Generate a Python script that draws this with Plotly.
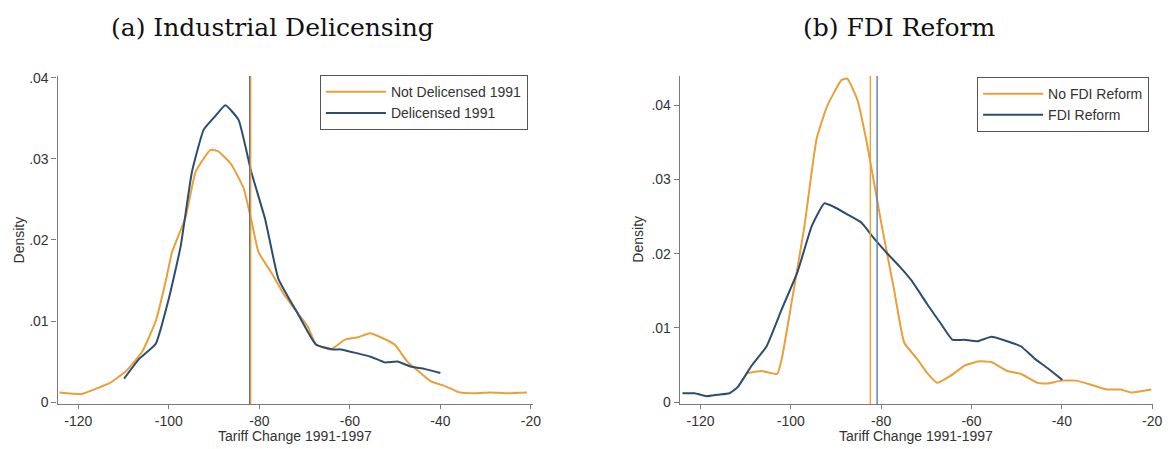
import plotly.graph_objects as go

# ---------------- data ----------------
# Panel (a): Industrial Delicensing
a_not_x = [-124.2, -119.3, -115.4, -113.2, -109.5, -105.9, -102.9, -100.7, -99.3, -96.3, -94.1, -90.8, -89.0,
           -86.2, -83.5, -81.8, -80.2, -77.4, -74.7, -72.1, -69.2, -67.5, -64.2, -61.1, -58.2, -55.6, -53.2,
           -50.1, -47.3, -44.4, -42.2, -39.1, -35.8, -31.9, -29.0, -25.3, -20.9]
a_not_y = [0.0012, 0.0010, 0.0018, 0.0023, 0.0038, 0.0062, 0.0100, 0.0149, 0.0185, 0.0228, 0.0284, 0.0311, 0.0309,
           0.0293, 0.0264, 0.0225, 0.0185, 0.0160, 0.0134, 0.0114, 0.0092, 0.0071, 0.0065, 0.0077, 0.0080, 0.0085, 0.0080,
           0.0071, 0.0050, 0.0036, 0.0026, 0.0020, 0.0012, 0.0011, 0.0012, 0.0011, 0.0012]
a_del_x = [-109.9, -106.6, -102.9, -100.0, -97.4, -94.9, -92.3, -89.7, -87.5, -84.6, -81.8, -78.7, -75.8,
           -71.4, -67.5, -63.7, -62.0, -58.2, -55.4, -52.3, -49.5, -46.6, -43.5, -40.0]
a_del_y = [0.0029, 0.0053, 0.0072, 0.0128, 0.0192, 0.0284, 0.0336, 0.0353, 0.0366, 0.0348, 0.0284, 0.0225, 0.0152,
           0.0108, 0.0071, 0.0065, 0.0065, 0.0060, 0.0056, 0.0049, 0.0050, 0.0044, 0.0041, 0.0036]
a_vlines = [-82.1, -81.9]  # Delicensed mean, Not Delicensed mean

# Panel (b): FDI Reform
b_no_x = [-109.8, -106.5, -103.0, -101.9, -99.9, -97.0, -94.3, -91.9, -88.8, -87.5, -85.3, -83.1, -80.0, -77.1,
          -74.9, -72.0, -69.8, -67.6, -64.5, -61.6, -58.3, -55.6, -52.1, -49.0, -45.4, -43.2, -40.1, -36.8,
          -32.8, -30.0, -26.9, -24.6, -20.2]
b_no_y = [0.0039, 0.0042, 0.0038, 0.0062, 0.0132, 0.0237, 0.0355, 0.0400, 0.0434, 0.0436, 0.0408, 0.0347, 0.0242, 0.0150,
          0.0080, 0.0058, 0.0039, 0.0026, 0.0036, 0.0049, 0.0055, 0.0054, 0.0042, 0.0038, 0.0026, 0.0025, 0.0029, 0.0029,
          0.0022, 0.0017, 0.0017, 0.0013, 0.0017]
b_fdi_x = [-124.0, -121.3, -118.7, -116.2, -113.6, -111.8, -108.7, -105.4, -102.1, -98.5, -95.4, -92.6, -90.4,
           -87.5, -84.4, -81.5, -78.6, -75.5, -73.3, -69.8, -66.7, -64.2, -61.6, -58.7, -55.6, -52.1, -49.0,
           -46.1, -43.2, -39.9]
b_fdi_y = [0.0012, 0.0012, 0.0008, 0.0010, 0.0012, 0.0020, 0.0049, 0.0075, 0.0124, 0.0176, 0.0237, 0.0268, 0.0263,
           0.0253, 0.0242, 0.0220, 0.0200, 0.0180, 0.0164, 0.0132, 0.0105, 0.0084, 0.0084, 0.0082, 0.0088, 0.0082, 0.0075,
           0.0059, 0.0046, 0.0030]
b_vlines = [-82.4, -80.9]  # No FDI Reform mean, FDI Reform mean

x_ticks = [-120, -100, -80, -60, -40, -20]
x_ticktext = ["-120", "-100", "-80", "-60", "-40", "-20"]
a_yticks = [0, 0.01, 0.02, 0.03, 0.04]
b_yticks = [0, 0.01, 0.02, 0.03, 0.04]
y_ticktext = ["0", ".01", ".02", ".03", ".04"]

ORANGE = "#E9A038"
BLUE = "#2D4D70"
AXIS = "#7a7a7a"
TEXT = "#333333"
W, H = 1174, 449
SANS = "Liberation Sans, Arial"

fig = go.Figure()
line_kw = dict(width=2, shape="spline", smoothing=0.4)
fig.add_trace(go.Scatter(x=a_not_x, y=a_not_y, mode="lines", name="Not Delicensed 1991",
                         line=dict(color=ORANGE, **line_kw), xaxis="x", yaxis="y", legend="legend"))
fig.add_trace(go.Scatter(x=a_del_x, y=a_del_y, mode="lines", name="Delicensed 1991",
                         line=dict(color=BLUE, **line_kw), xaxis="x", yaxis="y", legend="legend"))
fig.add_trace(go.Scatter(x=b_no_x, y=b_no_y, mode="lines", name="No FDI Reform",
                         line=dict(color=ORANGE, **line_kw), xaxis="x2", yaxis="y2", legend="legend2"))
fig.add_trace(go.Scatter(x=b_fdi_x, y=b_fdi_y, mode="lines", name="FDI Reform",
                         line=dict(color=BLUE, **line_kw), xaxis="x2", yaxis="y2", legend="legend2"))

shapes = [
    dict(type="line", xref="x", yref="y domain", x0=a_vlines[0], x1=a_vlines[0], y0=0, y1=1,
         line=dict(color="#5f6872", width=1.6)),
    dict(type="line", xref="x", yref="y domain", x0=a_vlines[1], x1=a_vlines[1], y0=0, y1=1,
         line=dict(color=ORANGE, width=1.2)),
    dict(type="line", xref="x2", yref="y2 domain", x0=b_vlines[0], x1=b_vlines[0], y0=0, y1=1,
         line=dict(color=ORANGE, width=1.4)),
    dict(type="line", xref="x2", yref="y2 domain", x0=b_vlines[1], x1=b_vlines[1], y0=0, y1=1,
         line=dict(color="#5f7fa6", width=1.4)),
]

ydom = [(H - 409) / H, (H - 72) / H]
axis_common = dict(showline=True, linecolor=AXIS, linewidth=1.2, ticks="outside", ticklen=5,
                   tickcolor=AXIS, tickwidth=1.2, showgrid=False, zeroline=False,
                   tickfont=dict(family=SANS, size=14, color=TEXT))
xaxis_extra = dict(ticklen=4)


def ann(text, xpx, ypx, size, family=SANS, angle=0, color=TEXT):
    return dict(text=text, x=xpx / W, y=(H - ypx) / H, xref="paper", yref="paper",
                xanchor="center", yanchor="middle", textangle=angle, showarrow=False,
                font=dict(family=family, size=size, color=color))


legend_common = dict(xanchor="right", yanchor="top", bordercolor="#555555", borderwidth=1,
                     bgcolor="white", itemwidth=60, tracegroupgap=0,
                     font=dict(family=SANS, size=14, color=TEXT))

fig.update_layout(
    width=W, height=H, margin=dict(l=0, r=0, t=0, b=0),
    paper_bgcolor="white", plot_bgcolor="white",
    showlegend=True,
    xaxis=dict(domain=[58 / W, 537 / W], range=[-124.6, -19.56], tickvals=x_ticks, ticktext=x_ticktext,
               anchor="y", **{**axis_common, **xaxis_extra}),
    yaxis=dict(domain=ydom, range=[-0.00024, 0.0402], tickvals=a_yticks, ticktext=y_ticktext,
               anchor="x", **axis_common),
    xaxis2=dict(domain=[685 / W, 1162 / W], range=[-124.6, -19.8], tickvals=x_ticks, ticktext=x_ticktext,
                anchor="y2", **{**axis_common, **xaxis_extra}),
    yaxis2=dict(domain=ydom, range=[-0.00026, 0.04395], tickvals=b_yticks, ticktext=y_ticktext,
                anchor="x2", **axis_common),
    legend=dict(x=532 / W, y=(H - 71) / H, **legend_common),
    legend2=dict(x=1158 / W, y=(H - 73) / H, **legend_common),
    shapes=shapes,
    annotations=[
        ann("(a) Industrial Delicensing", 275, 22, 25, family="DejaVu Serif", color="#111111"),
        ann("(b) FDI Reform", 906, 22, 25, family="DejaVu Serif", color="#111111"),
        ann("Tariff Change 1991-1997", 297, 442, 14),
        ann("Tariff Change 1991-1997", 923, 442, 14),
        ann("Density", 19, 240, 14, angle=-90),
        ann("Density", 643, 240, 14, angle=-90),
    ],
)

fig.write_html("out.html")
